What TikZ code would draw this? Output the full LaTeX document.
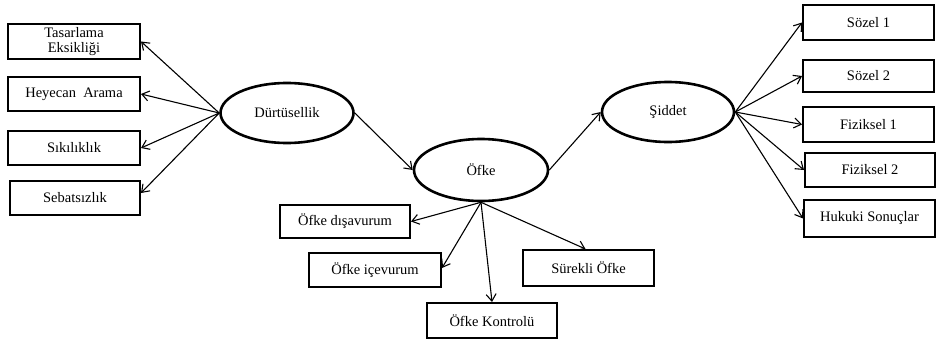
\documentclass[tikz,border=0pt]{standalone}
\usepackage{fontspec}
\setmainfont{Liberation Serif}
\usetikzlibrary{arrows.meta,shapes.geometric}
\begin{document}
\begin{tikzpicture}[x=1pt,y=-1pt,
  box/.style={draw,line width=2pt,inner sep=0pt,align=center,font=\fontsize{14.5}{17}\selectfont},
  oval/.style={draw,ellipse,line width=2.6pt,inner sep=0pt,font=\fontsize{14.5}{17}\selectfont},
  arr/.style={line width=1.1pt,-{Straight Barb[length=7pt,width=10pt,line width=1.1pt]}}]
\useasboundingbox (0,0) rectangle (936,345);
% left boxes
\node[box,minimum width=132pt,minimum height=35pt] (tas) at (74,41.5) {Tasarlama\\[-2pt]Eksikliği};
\node[box,minimum width=132pt,minimum height=34pt] (hey) at (74,94) {Heyecan~ Arama};
\node[box,minimum width=132pt,minimum height=34pt] (sik) at (74,148) {Sıkılıklık};
\node[box,minimum width=130pt,minimum height=34pt] (seb) at (75,198) {Sebatsızlık};
% ellipses
\node[oval,minimum width=133pt,minimum height=60pt] (dur) at (287,113) {Dürtüsellik};
\node[oval,minimum width=134pt,minimum height=62pt] (ofke) at (481,170) {Öfke};
\node[oval,minimum width=132pt,minimum height=60pt] (sid) at (668,112) {Şiddet};
% Öfke boxes
\node[box,minimum width=130pt,minimum height=33pt] (dis) at (345,221.5) {Öfke dışavurum};
\node[box,minimum width=132pt,minimum height=34pt] (ice) at (375,270) {Öfke içevurum};
\node[box,minimum width=130pt,minimum height=35pt] (kon) at (492,320.5) {Öfke Kontrolü};
\node[box,minimum width=131pt,minimum height=36pt] (sur) at (588.5,268) {Sürekli Öfke};
% right boxes
\node[box,minimum width=131pt,minimum height=35pt] (soz1) at (868.5,22.5) {Sözel 1};
\node[box,minimum width=131pt,minimum height=32pt] (soz2) at (868.5,76) {Sözel 2};
\node[box,minimum width=131pt,minimum height=35pt] (fiz1) at (868.5,124.5) {Fiziksel 1};
\node[box,minimum width=130pt,minimum height=34pt] (fiz2) at (870,170) {Fiziksel 2};
\node[box,minimum width=131pt,minimum height=37pt] (huk) at (869.5,218.5) {Hukuki Sonuçlar};
% arrows
\draw[arr] (dur.west) -- (tas.east);
\draw[arr] (dur.west) -- (hey.east);
\draw[arr] (dur.west) -- (sik.east);
\draw[arr] (dur.west) -- ([yshift=5pt]seb.east);
\draw[arr] (dur.east) -- (ofke.west);
\draw[arr] (ofke.east) -- (sid.west);
\draw[arr] (ofke.south) -- (dis.east);
\draw[arr] (ofke.south) -- ([yshift=2pt]ice.east);
\draw[arr] (ofke.south) -- (kon.north);
\draw[arr] (ofke.south) -- ([xshift=-3pt]sur.north);
\draw[arr] (sid.east) -- (soz1.west);
\draw[arr] (sid.east) -- (soz2.west);
\draw[arr] (sid.east) -- (fiz1.west);
\draw[arr] (sid.east) -- (fiz2.west);
\draw[arr] (sid.east) -- (huk.west);
\end{tikzpicture}
\end{document}
